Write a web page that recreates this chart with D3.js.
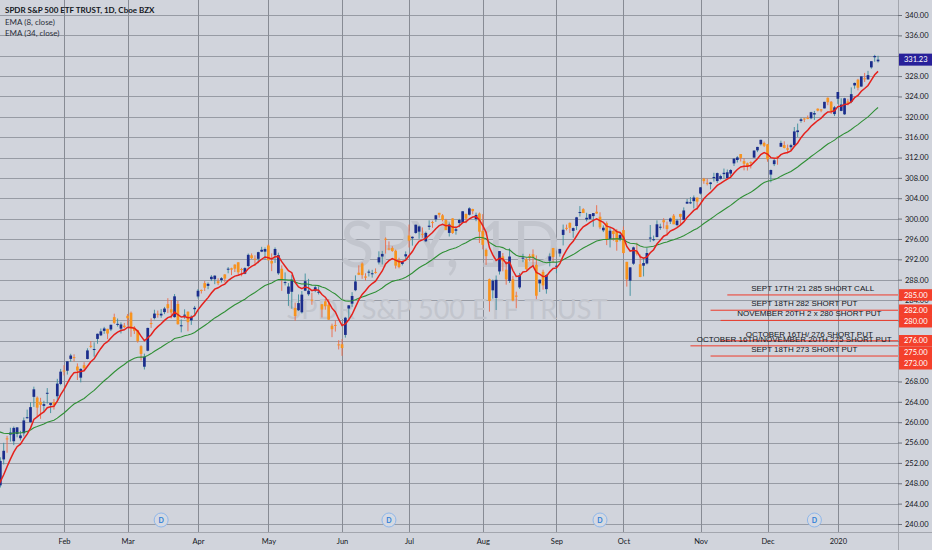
<!DOCTYPE html>
<html>
<head>
<meta charset="utf-8">
<script src="https://cdn.jsdelivr.net/npm/d3@7"></script>
<style>
html, body { margin: 0; padding: 0; background: #d1d4dc; }
svg { display: block; }
</style>
</head>
<body>
<svg id="chart"></svg>
<script>
// SPY daily candles, Jan 2019 - Jan 2020
const dates = [
"2019-01-02","2019-01-03","2019-01-04","2019-01-07","2019-01-08","2019-01-09","2019-01-10","2019-01-11","2019-01-14","2019-01-15","2019-01-16","2019-01-17","2019-01-18","2019-01-22","2019-01-23","2019-01-24","2019-01-25","2019-01-28","2019-01-29","2019-01-30","2019-01-31",
"2019-02-01","2019-02-04","2019-02-05","2019-02-06","2019-02-07","2019-02-08","2019-02-11","2019-02-12","2019-02-13","2019-02-14","2019-02-15","2019-02-19","2019-02-20","2019-02-21","2019-02-22","2019-02-25","2019-02-26","2019-02-27","2019-02-28",
"2019-03-01","2019-03-04","2019-03-05","2019-03-06","2019-03-07","2019-03-08","2019-03-11","2019-03-12","2019-03-13","2019-03-14","2019-03-15","2019-03-18","2019-03-19","2019-03-20","2019-03-21","2019-03-22","2019-03-25","2019-03-26","2019-03-27","2019-03-28","2019-03-29",
"2019-04-01","2019-04-02","2019-04-03","2019-04-04","2019-04-05","2019-04-08","2019-04-09","2019-04-10","2019-04-11","2019-04-12","2019-04-15","2019-04-16","2019-04-17","2019-04-18","2019-04-22","2019-04-23","2019-04-24","2019-04-25","2019-04-26","2019-04-29","2019-04-30",
"2019-05-01","2019-05-02","2019-05-03","2019-05-06","2019-05-07","2019-05-08","2019-05-09","2019-05-10","2019-05-13","2019-05-14","2019-05-15","2019-05-16","2019-05-17","2019-05-20","2019-05-21","2019-05-22","2019-05-23","2019-05-24","2019-05-28","2019-05-29","2019-05-30","2019-05-31",
"2019-06-03","2019-06-04","2019-06-05","2019-06-06","2019-06-07","2019-06-10","2019-06-11","2019-06-12","2019-06-13","2019-06-14","2019-06-17","2019-06-18","2019-06-19","2019-06-20","2019-06-21","2019-06-24","2019-06-25","2019-06-26","2019-06-27","2019-06-28",
"2019-07-01","2019-07-02","2019-07-03","2019-07-05","2019-07-08","2019-07-09","2019-07-10","2019-07-11","2019-07-12","2019-07-15","2019-07-16","2019-07-17","2019-07-18","2019-07-19","2019-07-22","2019-07-23","2019-07-24","2019-07-25","2019-07-26","2019-07-29","2019-07-30","2019-07-31",
"2019-08-01","2019-08-02","2019-08-05","2019-08-06","2019-08-07","2019-08-08","2019-08-09","2019-08-12","2019-08-13","2019-08-14","2019-08-15","2019-08-16","2019-08-19","2019-08-20","2019-08-21","2019-08-22","2019-08-23","2019-08-26","2019-08-27","2019-08-28","2019-08-29","2019-08-30",
"2019-09-03","2019-09-04","2019-09-05","2019-09-06","2019-09-09","2019-09-10","2019-09-11","2019-09-12","2019-09-13","2019-09-16","2019-09-17","2019-09-18","2019-09-19","2019-09-20","2019-09-23","2019-09-24","2019-09-25","2019-09-26","2019-09-27","2019-09-30",
"2019-10-01","2019-10-02","2019-10-03","2019-10-04","2019-10-07","2019-10-08","2019-10-09","2019-10-10","2019-10-11","2019-10-14","2019-10-15","2019-10-16","2019-10-17","2019-10-18","2019-10-21","2019-10-22","2019-10-23","2019-10-24","2019-10-25","2019-10-28","2019-10-29","2019-10-30","2019-10-31",
"2019-11-01","2019-11-04","2019-11-05","2019-11-06","2019-11-07","2019-11-08","2019-11-11","2019-11-12","2019-11-13","2019-11-14","2019-11-15","2019-11-18","2019-11-19","2019-11-20","2019-11-21","2019-11-22","2019-11-25","2019-11-26","2019-11-27","2019-11-29",
"2019-12-02","2019-12-03","2019-12-04","2019-12-05","2019-12-06","2019-12-09","2019-12-10","2019-12-11","2019-12-12","2019-12-13","2019-12-16","2019-12-17","2019-12-18","2019-12-19","2019-12-20","2019-12-23","2019-12-24","2019-12-26","2019-12-27","2019-12-30","2019-12-31",
"2020-01-02","2020-01-03","2020-01-06","2020-01-07","2020-01-08","2020-01-09","2020-01-10","2020-01-13","2020-01-14","2020-01-15","2020-01-16","2020-01-17","2020-01-21"
];
const opens = [
245.98,248.23,247.59,252.69,256.82,257.56,256.26,257.68,256.86,257.82,260.83,259.99,264.98,264.82,264.01,263.21,265.61,263.39,263.92,265.10,267.51,
270.15,270.11,272.44,272.79,270.94,268.75,271.20,272.42,275.01,274.37,276.36,277.06,277.94,278.34,278.22,280.64,279.28,278.38,278.97,
280.90,281.50,278.60,278.04,274.93,270.90,274.04,279.48,280.45,281.30,280.97,281.63,283.19,282.18,280.64,283.22,278.87,280.99,281.71,280.00,282.20,
284.70,285.99,287.32,286.79,288.10,288.10,287.70,287.91,289.03,290.00,290.24,290.96,291.41,290.10,289.17,290.68,292.79,292.12,292.10,293.51,293.51,
294.72,291.68,292.82,289.25,290.15,287.53,285.23,285.62,282.42,281.99,281.59,285.84,285.14,284.06,285.83,285.45,283.16,283.74,283.09,278.96,279.11,275.29,
275.31,277.15,282.33,283.29,285.93,289.37,291.18,288.64,289.40,289.26,289.52,291.39,292.55,296.04,294.13,294.23,293.69,291.86,291.10,292.58,
296.68,296.14,297.18,297.44,297.01,295.54,298.37,299.32,299.85,301.13,300.65,299.71,297.19,300.04,297.61,299.14,299.19,300.91,300.76,301.88,299.91,300.99,
297.60,293.85,288.09,285.91,284.40,289.62,292.58,289.96,287.74,288.07,284.88,286.48,292.19,291.99,292.64,292.99,290.92,287.27,289.54,286.14,291.72,294.22,
290.57,293.14,296.79,298.18,299.16,297.59,298.54,301.25,301.85,299.84,299.94,300.49,301.35,300.37,297.69,299.10,296.00,297.57,297.63,295.93,
297.74,291.50,287.81,291.14,293.53,291.03,290.75,291.18,296.27,295.93,296.38,298.37,299.68,298.68,299.42,300.58,298.73,300.91,299.74,302.94,303.00,303.43,304.13,
304.92,307.85,307.03,306.78,307.95,307.38,307.81,308.74,307.95,308.84,310.84,311.52,312.68,311.29,310.86,311.09,311.98,313.41,314.61,314.86,
314.59,308.65,310.70,312.23,314.12,314.44,313.82,314.03,314.43,316.99,319.19,319.67,319.81,319.71,320.45,321.59,321.47,321.65,323.74,322.95,320.53,
323.54,321.16,320.49,323.02,322.94,326.16,327.29,325.94,327.56,327.35,329.71,331.70,330.90
];
const highs = [
251.21,248.57,253.11,255.95,257.31,258.91,259.16,259.01,258.30,260.94,262.47,263.92,266.98,265.06,264.79,264.20,266.70,263.83,264.55,268.52,270.47,
271.20,272.02,273.44,273.34,271.55,270.60,271.78,274.52,275.93,275.69,277.41,278.41,278.73,278.34,279.16,281.32,280.37,279.61,279.50,
281.26,281.74,278.90,278.15,275.11,273.47,278.57,280.40,282.09,281.93,282.22,282.65,284.36,284.00,285.18,283.80,280.19,282.18,281.76,281.00,282.84,
286.16,286.06,287.76,287.47,288.88,288.85,288.28,288.50,289.07,290.47,290.35,291.01,291.43,290.32,290.44,293.14,293.16,292.78,293.49,294.45,294.34,
294.95,293.16,294.34,293.31,290.81,289.43,287.33,288.94,283.49,285.10,285.77,289.21,288.16,285.43,286.93,286.69,283.21,284.20,284.15,279.36,280.00,276.10,
276.32,280.69,282.99,285.55,288.85,290.82,291.40,289.26,289.98,289.93,290.22,293.57,293.65,296.31,295.52,294.58,293.90,292.31,291.72,293.55,
298.82,296.49,298.82,298.64,298.26,297.45,299.66,299.58,300.73,301.13,300.88,299.95,299.25,300.07,298.47,299.95,301.44,300.99,302.23,301.93,301.17,301.20,
300.87,294.12,288.21,288.04,288.82,293.62,293.23,291.61,294.15,288.74,285.64,289.33,293.08,292.28,293.07,293.95,292.76,288.00,289.95,289.07,293.16,294.24,
291.58,294.06,298.83,298.82,299.24,298.25,300.34,302.46,302.04,301.14,300.87,301.04,302.63,301.24,298.66,299.43,298.34,297.73,297.96,297.20,
298.46,291.51,290.45,294.50,295.26,292.94,292.30,294.21,298.74,296.67,299.66,299.00,300.08,299.40,300.21,300.90,299.94,300.96,302.20,303.85,304.23,304.55,304.13,
306.19,308.00,307.85,307.21,309.00,309.04,308.63,309.83,309.64,309.72,311.84,312.28,312.69,311.86,311.01,311.24,313.37,314.10,315.48,315.13,
314.66,309.64,311.82,312.25,315.31,315.18,314.55,314.70,317.99,318.67,319.81,319.73,320.25,320.99,321.15,321.65,321.52,322.95,323.80,323.10,322.13,
324.89,323.64,323.73,323.54,325.78,326.73,327.46,327.96,328.62,329.02,330.92,332.18,332.00
];
const lows = [
245.95,243.67,247.17,251.69,254.00,256.19,255.50,257.03,256.41,257.21,260.70,259.96,263.00,261.06,260.66,262.08,263.66,261.79,262.48,264.25,267.27,
269.18,269.36,271.88,271.92,268.29,267.83,270.06,272.34,274.56,272.87,275.41,276.92,277.36,276.32,277.90,279.30,278.79,277.43,278.49,
278.98,276.77,277.34,275.63,272.12,270.36,273.93,278.52,280.21,280.53,280.52,281.23,281.43,280.38,280.54,279.18,277.65,280.32,277.87,279.12,280.83,
284.30,285.28,285.78,286.13,287.73,287.12,286.93,287.43,287.47,289.26,288.90,289.50,288.99,288.66,289.07,290.42,292.07,290.73,291.24,293.41,291.92,
291.80,289.68,291.30,288.94,285.81,286.87,282.85,282.30,279.93,281.85,281.36,285.76,284.84,283.07,285.55,285.10,280.57,282.09,280.13,276.71,277.81,274.29,
273.04,276.62,280.32,282.66,285.74,288.90,288.18,287.82,288.63,288.41,289.18,290.99,290.99,293.13,293.76,293.47,290.18,290.23,290.80,292.01,
294.33,294.69,297.02,296.04,296.22,295.39,297.78,298.20,299.36,300.19,299.44,297.74,296.48,296.99,296.84,298.31,299.09,299.11,300.61,300.85,299.49,295.20,
293.96,290.90,281.72,284.28,282.04,289.01,289.65,287.02,287.36,283.76,282.39,286.18,291.44,289.90,291.60,290.65,284.17,285.58,286.03,285.25,290.61,291.42,
289.27,292.52,294.73,297.68,297.16,296.24,297.75,300.41,301.24,299.45,299.76,298.40,300.95,297.93,297.35,294.79,294.33,295.66,293.69,295.55,
293.00,286.64,284.82,290.90,292.76,288.49,288.65,291.00,295.39,295.57,296.32,297.80,298.05,296.66,298.94,298.91,298.50,298.80,299.68,302.91,302.86,301.99,301.74,
304.73,306.84,306.52,305.74,307.27,307.02,307.64,307.85,307.86,308.37,310.33,311.02,311.22,309.48,309.44,309.85,311.98,313.06,314.37,314.06,
311.17,307.13,310.32,310.58,314.11,313.80,312.81,313.44,314.17,316.02,318.84,318.96,319.53,319.52,319.39,321.06,320.90,321.64,322.28,320.55,320.15,
322.53,321.10,320.36,322.24,322.67,325.52,325.20,325.92,326.84,327.26,329.45,330.82,330.65
];
const closes = [
250.18,244.21,252.39,254.38,256.77,257.97,258.88,258.98,257.40,260.35,260.98,262.96,266.46,262.86,263.41,263.55,265.78,263.76,263.41,267.58,269.93,
270.06,271.96,273.10,272.74,270.14,270.47,270.62,274.10,274.99,274.38,277.37,277.85,278.41,277.42,279.14,279.52,279.32,279.20,278.68,
280.42,278.36,277.96,275.92,273.42,272.86,278.52,279.32,281.34,281.16,281.31,282.33,282.40,281.55,284.73,279.25,279.04,281.12,279.65,280.71,282.48,
285.83,285.97,286.42,287.18,288.57,288.79,287.31,288.29,288.21,290.16,289.97,290.16,289.45,290.02,290.27,292.88,292.23,292.05,293.41,293.87,294.02,
291.81,291.18,294.03,292.82,287.93,287.53,286.66,287.99,280.86,283.40,285.06,287.70,285.84,283.95,286.51,285.63,282.14,282.78,280.15,278.27,279.03,275.27,
274.57,280.53,282.96,284.80,287.65,288.97,288.90,288.39,289.58,289.26,289.37,292.40,293.06,295.86,294.00,293.64,290.76,290.47,291.50,293.00,
295.66,296.43,298.80,298.46,296.82,297.19,298.61,299.31,300.65,300.75,299.71,297.74,298.83,297.17,297.90,299.73,301.44,300.00,302.01,301.46,300.72,297.43,
294.84,292.62,283.82,287.80,287.97,293.62,291.62,288.07,292.55,283.90,284.65,288.85,292.33,290.09,292.45,292.36,284.85,288.00,286.87,288.89,292.58,292.45,
290.74,294.04,297.81,298.05,298.20,298.13,300.25,301.29,301.09,300.16,300.87,301.08,301.01,298.28,298.21,295.87,297.62,296.96,295.40,296.77,
293.24,288.06,290.42,294.35,293.08,288.53,291.27,293.24,296.28,295.95,298.88,298.40,299.28,297.97,300.03,298.88,299.61,300.35,301.60,303.30,303.21,304.14,303.33,
306.14,307.37,306.98,307.10,308.18,308.94,308.35,309.00,309.10,309.55,311.79,312.02,311.93,310.78,310.27,310.96,313.37,314.08,315.48,314.31,
311.64,309.55,311.46,312.02,314.87,313.88,313.53,314.42,317.13,317.32,319.50,319.57,319.59,320.90,320.73,321.22,321.23,322.94,322.86,321.08,321.86,
324.87,322.41,323.64,322.73,324.45,326.65,325.71,327.95,327.45,328.19,330.92,331.95,331.23
];

// EMA values carried in from before the first visible bar
const ema8Seed = 247.4;
const ema34Seed = 259.8;

const priceTicks = [240,244,248,252,256,260,264,268,272,276,280,284,288,292,296,300,304,308,312,316,320,324,328,332,336,340];
const monthStarts = ["2019-02-01","2019-03-01","2019-04-01","2019-05-01","2019-06-03","2019-07-01","2019-08-01","2019-09-03","2019-10-01","2019-11-01","2019-12-02","2020-01-02"];
const monthLabels = ["Feb","Mar","Apr","May","Jun","Jul","Aug","Sep","Oct","Nov","Dec","2020"];
const dividendDates = ["2019-03-15","2019-06-21","2019-09-20","2019-12-20"];

const orderLevels = [285, 282, 280, 276, 275, 273];
const orderStarts = ["2019-11-13","2019-11-06","2019-11-11","2019-11-11","2019-10-29","2019-11-06"];
const orderTexts = [
    "SEPT 17TH '21 285 SHORT CALL",
    "SEPT 18TH 282 SHORT PUT",
    "NOVEMBER 20TH 2 x 280 SHORT PUT",
    "OCTOBER 16TH/ 276 SHORT PUT",
    "OCTOBER 16TH/NOVEMBER 20TH 275 SHORT PUT",
    "SEPT 18TH 273 SHORT PUT"
];
const lastPrice = 331.23;

const width = 932;
const height = 550;
const paneW = 898;
const paneH = 532;

const svg = d3.select('#chart')
    .attr('width', width)
    .attr('height', height)
    .style('font-family', 'Lato, sans-serif');

svg.append('rect').attr('width', width).attr('height', height).attr('fill', '#d1d4dc');

svg.append('defs').append('clipPath').attr('id', 'pane')
    .append('rect').attr('width', paneW).attr('height', paneH);

let x = d3.scalePoint().domain(dates).range([-6.35, 878.05]);
let y = d3.scaleLinear().domain([240, 340]).range([524, 15]);

function ema(values, n, seed) {
    const k = 2 / (n + 1);
    let e = seed;
    return values.map(v => (e = e + k * (v - e)));
}
const ema8 = ema(closes, 8, ema8Seed);
const ema34 = ema(closes, 34, ema34Seed);

// grid
let grid = svg.append('g');
grid.selectAll('line.h').data(priceTicks).enter().append('line')
    .attr('x1', 0).attr('x2', paneW)
    .attr('y1', d => Math.round(y(d)) + 0.5).attr('y2', d => Math.round(y(d)) + 0.5)
    .attr('stroke', '#979ba4');
grid.selectAll('line.v').data(monthStarts).enter().append('line')
    .attr('x1', d => Math.round(x(d)) + 0.5).attr('x2', d => Math.round(x(d)) + 0.5)
    .attr('y1', 0).attr('y2', paneH)
    .attr('stroke', '#878b94');

// watermark
svg.append('text').attr('x', 450).attr('y', 267).attr('text-anchor', 'middle')
    .attr('font-size', 63).attr('fill', '#c2c5cd').text('SPY, 1D');
svg.append('text').attr('x', 447).attr('y', 319).attr('text-anchor', 'middle')
    .attr('font-size', 27).attr('fill', '#c2c5cd').text('SPDR S&P 500 ETF TRUST');

let focus = svg.append('g').attr('clip-path', 'url(#pane)');

// candles
const idx = d3.range(dates.length);
let candles = focus.append('g');
candles.selectAll('line').data(idx).enter().append('line')
    .attr('x1', i => x(dates[i])).attr('x2', i => x(dates[i]))
    .attr('y1', i => y(highs[i])).attr('y2', i => y(lows[i]))
    .attr('stroke', i => closes[i] >= opens[i] ? '#3c8d9c' : '#ec6a47')
    .attr('stroke-width', 0.9);
candles.selectAll('rect').data(idx).enter().append('rect')
    .attr('x', i => x(dates[i]) - 1.35)
    .attr('width', 2.7)
    .attr('y', i => y(Math.max(opens[i], closes[i])))
    .attr('height', i => Math.max(1, Math.abs(y(opens[i]) - y(closes[i]))))
    .attr('fill', i => closes[i] >= opens[i] ? '#1b2d8c' : '#f7941f');

// EMAs
let line = d3.line().x((d, i) => x(dates[i])).y(d => y(d));
focus.append('path').datum(ema34).attr('d', line)
    .attr('fill', 'none').attr('stroke', '#2f8f35').attr('stroke-width', 1.1);
focus.append('path').datum(ema8).attr('d', line)
    .attr('fill', 'none').attr('stroke', '#e5211c').attr('stroke-width', 1.5);

// option order lines
let orders = focus.append('g');
orderLevels.forEach((lvl, i) => {
    const x0 = x(orderStarts[i]);
    orders.append('line')
        .attr('x1', x0).attr('x2', paneW)
        .attr('y1', y(lvl)).attr('y2', y(lvl))
        .attr('stroke', '#ee3a2a').attr('stroke-width', 1);
    orders.append('text')
        .attr('x', (x0 + paneW) / 2).attr('y', y(lvl) - 4)
        .attr('text-anchor', 'middle')
        .attr('font-family', '"Liberation Sans", Arial, sans-serif')
        .attr('font-size', 8).attr('fill', '#131722')
        .text(orderTexts[i]);
});

// dividend markers
let divs = svg.append('g');
dividendDates.forEach(d => {
    divs.append('circle').attr('cx', x(d)).attr('cy', 520).attr('r', 7)
        .attr('fill', '#d5d9e2').attr('stroke', '#8fb7ea').attr('stroke-width', 1);
    divs.append('text').attr('x', x(d)).attr('y', 522.5).attr('text-anchor', 'middle')
        .attr('font-size', 7).attr('font-weight', 'bold').attr('fill', '#2f7fd8').text('D');
});

// pane borders
svg.append('line').attr('x1', paneW + 0.5).attr('x2', paneW + 0.5).attr('y1', 0).attr('y2', height)
    .attr('stroke', '#a3a6ae');
svg.append('line').attr('x1', 0).attr('x2', width).attr('y1', paneH + 0.5).attr('y2', paneH + 0.5)
    .attr('stroke', '#a3a6ae');

// order price labels on the axis, pushed apart like the platform does
const boxH = 11.5;
let placed = [];
orderLevels.map(l => ({ l, cy: y(l) })).sort((a, b) => a.cy - b.cy).forEach(o => {
    const prev = placed[placed.length - 1];
    if (prev && o.cy - prev.cy < boxH) o.cy = prev.cy + boxH;
    placed.push(o);
});

// price axis
let yAxis = d3.axisRight(y).tickValues(priceTicks).tickFormat(d3.format('.2f')).tickSize(4).tickPadding(3);
let yg = svg.append('g').attr('transform', `translate(${paneW}, 0)`).call(yAxis);
yg.select('.domain').remove();
yg.selectAll('line').attr('stroke', '#6d717b');
yg.selectAll('text').attr('font-size', 7.5).attr('fill', '#131722').attr('font-family', 'Lato, sans-serif');
// labels hidden under the last-price tag or fully under an order tag
yg.selectAll('.tick')
    .filter(d => Math.abs(y(d) - y(lastPrice)) < 9 || placed.some(o => Math.abs(y(d) - o.cy) < 4))
    .select('text').remove();

// time axis
let xAxis = d3.axisBottom(x).tickValues(monthStarts)
    .tickFormat((d, i) => monthLabels[i]).tickSize(0).tickPadding(7);
let xg = svg.append('g').attr('transform', `translate(0, ${paneH})`).call(xAxis);
xg.select('.domain').remove();
xg.selectAll('text').attr('font-size', 7.5).attr('fill', '#131722').attr('font-family', 'Lato, sans-serif');

let tags = svg.append('g');
placed.forEach(o => {
    tags.append('rect').attr('x', paneW + 1).attr('y', o.cy - boxH / 2)
        .attr('width', width - paneW - 1).attr('height', boxH).attr('fill', '#f4402c');
    tags.append('text').attr('x', paneW + 6).attr('y', o.cy + 2.7)
        .attr('font-size', 7.5).attr('fill', '#ffffff').text(d3.format('.2f')(o.l));
});
tags.append('rect').attr('x', paneW + 1).attr('y', y(lastPrice) - 6)
    .attr('width', width - paneW - 1).attr('height', 12).attr('fill', '#28209a');
tags.append('text').attr('x', paneW + 6).attr('y', y(lastPrice) + 2.7)
    .attr('font-size', 7.5).attr('fill', '#ffffff').text(d3.format('.2f')(lastPrice));

// legend
let legend = svg.append('g').attr('font-size', 8).attr('fill', '#131722');
legend.append('text').attr('x', 5).attr('y', 13).attr('font-weight', 'bold')
    .text('SPDR S&P 500 ETF TRUST, 1D, Cboe BZX');
legend.append('text').attr('x', 5).attr('y', 25).attr('fill', '#2a2e39').text('EMA (8, close)');
legend.append('text').attr('x', 5).attr('y', 36).attr('fill', '#2a2e39').text('EMA (34, close)');
</script>
</body>
</html>
